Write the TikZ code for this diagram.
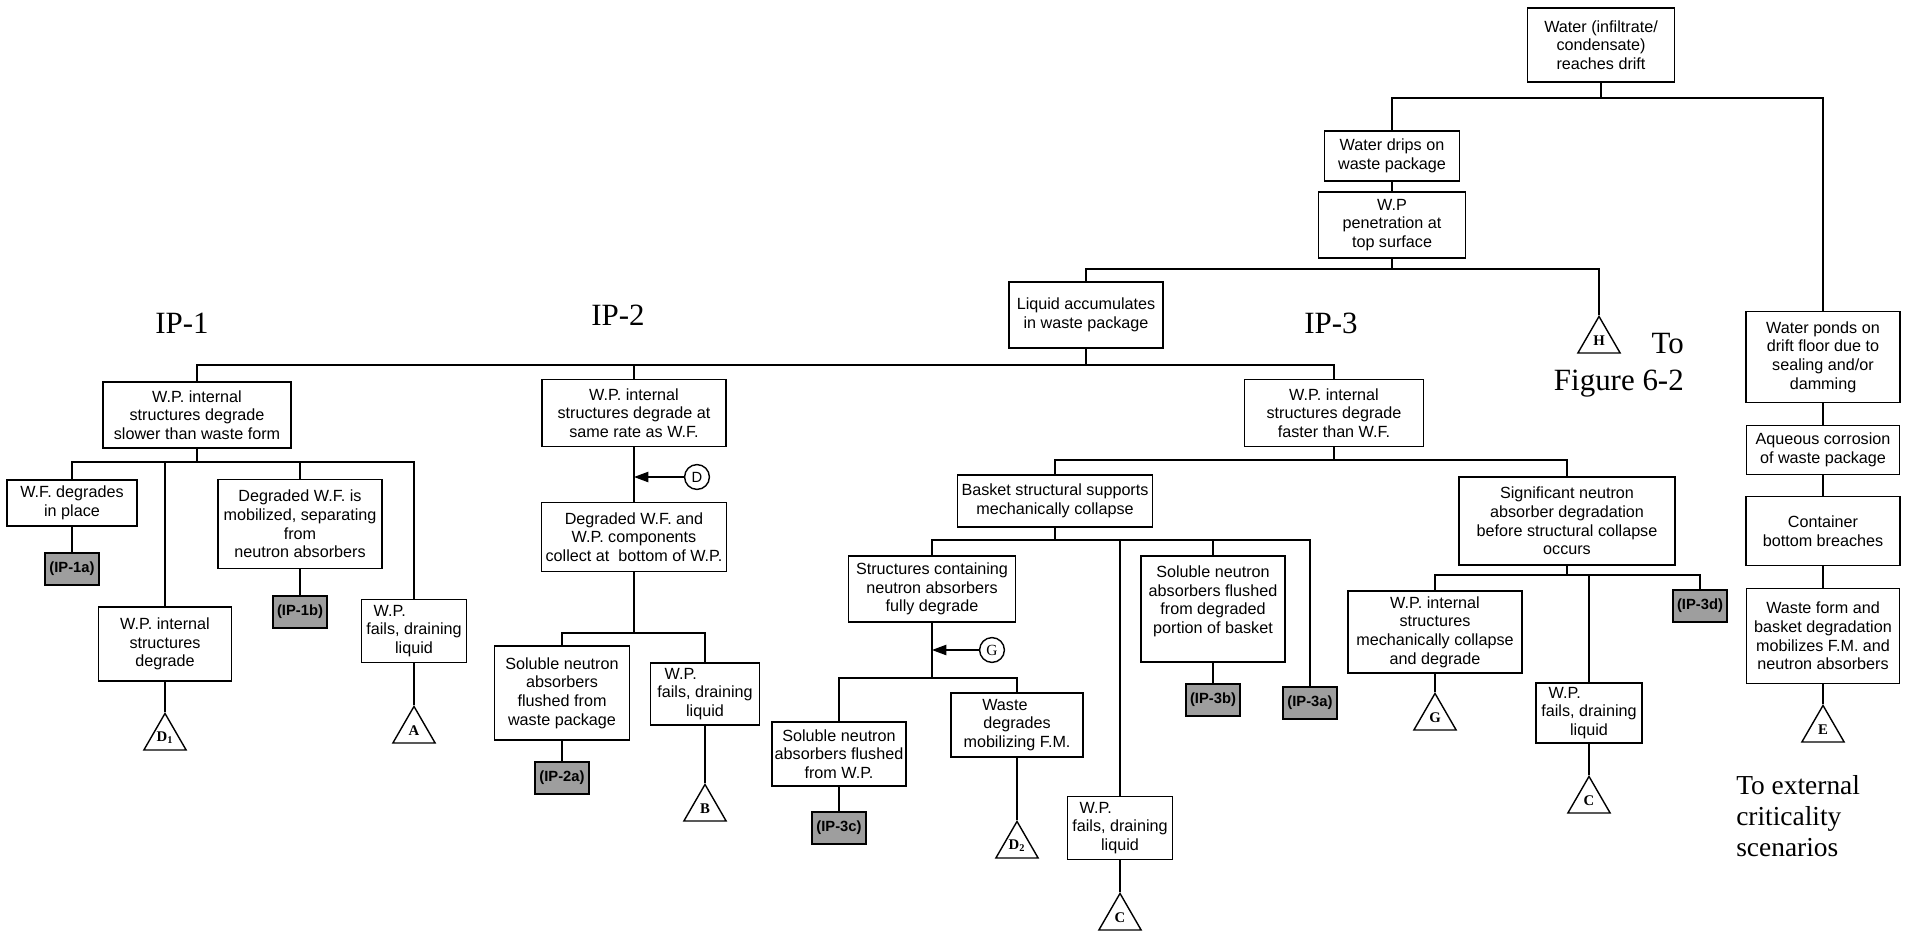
\documentclass[tikz,border=0pt]{standalone}
\usepackage{fontspec}
\setmainfont{Liberation Sans}
\newfontfamily\tnr{Liberation Serif}
\usetikzlibrary{shapes.geometric,arrows.meta}

\tikzset{
  box/.style={draw,line width=1.1pt,align=center,inner sep=2pt,
    font=\fontsize{11.5}{13.3}\selectfont},
  tag/.style={draw,line width=1pt,fill=black!38,minimum width=1.35cm,
    minimum height=0.8cm,inner sep=1pt,font=\bfseries\fontsize{10.5}{12}\selectfont},
  tri/.style={draw,line width=1pt,regular polygon,regular polygon sides=3,
    minimum size=1.22cm,inner sep=0pt,anchor=corner 1,
    font=\tnr\bfseries\fontsize{10.5}{11}\selectfont},
  ring/.style={draw,line width=1pt,circle,minimum size=0.62cm,inner sep=0pt,
    font=\fontsize{10.5}{11}\selectfont},
  link/.style={line width=0.9pt},
  arr/.style={-{Triangle[length=3.6mm,width=2.6mm]}},
  big/.style={font=\tnr\fontsize{22}{26}\selectfont,inner sep=0pt},
}

\begin{document}
\begin{tikzpicture}[x=0.025cm,y=-0.025cm]
  \useasboundingbox (0,0) rectangle (1912,934);

  % top of the tree
  \node[box,minimum width=3.68cm,minimum height=1.85cm] (top) at (1601,45)
    {Water (infiltrate/\\ condensate)\\ reaches drift};
  \node[box,minimum width=3.38cm,minimum height=1.25cm] (drips) at (1392,156)
    {Water drips on\\ waste package};
  \node[box,minimum width=3.68cm,minimum height=1.65cm] (pen) at (1392,225)
    {W.P\\ penetration at\\ top surface};
  \node[box,minimum width=3.85cm,minimum height=1.65cm] (liquid) at (1086,315)
    {Liquid accumulates\\ in waste package};
  \node[tri] (th) at (1599,315) {H};

  % right column
  \node[box,minimum width=3.85cm,minimum height=2.28cm] (ponds) at (1823,357)
    {Water ponds on\\ drift floor due to\\ sealing and/or\\ damming};
  \node[box,minimum width=3.83cm,minimum height=1.23cm] (aqueous) at (1823,450)
    {Aqueous corrosion\\ of waste package};
  \node[box,minimum width=3.85cm,minimum height=1.73cm] (container) at (1823,531)
    {Container\\ bottom breaches};
  \node[box,minimum width=3.83cm,minimum height=2.38cm] (wform) at (1823,636)
    {Waste form and\\ basket degradation\\ mobilizes F.M. and\\ neutron absorbers};
  \node[tri] (te) at (1823,704) {E};

  % the three branches
  \node[box,minimum width=4.7cm,minimum height=1.65cm] (ip1) at (197,415)
    {W.P. internal\\ structures degrade\\ slower than waste form};
  \node[box,minimum width=4.6cm,minimum height=1.68cm] (ip2) at (634,413)
    {W.P. internal\\ structures degrade at\\ same rate as W.F.};
  \node[box,minimum width=4.48cm,minimum height=1.68cm] (ip3) at (1334,413)
    {W.P. internal\\ structures degrade\\ faster than W.F.};

  % IP-1
  \node[box,minimum width=3.25cm,minimum height=1.15cm] (wfplace) at (72,503)
    {W.F. degrades\\ in place};
  \node[box,minimum width=3.33cm,minimum height=1.85cm] (d1box) at (165,644)
    {W.P. internal\\ structures\\ degrade};
  \node[box,minimum width=4.1cm,minimum height=2.23cm] (mobil) at (300,524)
    {Degraded W.F. is\\ mobilized, separating\\ from\hspace*{2.5em}\\ neutron absorbers};
  \node[box,minimum width=2.63cm,minimum height=1.58cm] (fail1) at (414,631)
    {W.P.\hspace*{3em}\\ fails, draining\\ liquid};
  \node[tag] (ip1a) at (72,569) {(IP-1a)};
  \node[tag] (ip1b) at (300,612) {(IP-1b)};
  \node[tri] (td1) at (165,712) {D\textsubscript{1}};
  \node[tri] (ta) at (414,705) {A};

  % IP-2
  \node[ring] (dring) at (697,477) {D};
  \node[box,minimum width=4.63cm,minimum height=1.73cm] (degr) at (634,537)
    {Degraded W.F. and\\ W.P. components\\ collect at \ bottom of W.P.};
  \node[box,minimum width=3.38cm,minimum height=2.35cm] (sol2) at (562,693)
    {Soluble neutron\\ absorbers\\ flushed from\\ waste package};
  \node[box,minimum width=2.73cm,minimum height=1.55cm] (fail2) at (705,694)
    {W.P.\hspace*{3em}\\ fails, draining\\ liquid};
  \node[tag] (ip2a) at (562,778) {(IP-2a)};
  \node[tri] (tb) at (705,783) {B};

  % IP-3
  \node[box,minimum width=4.88cm,minimum height=1.3cm] (basket) at (1055,501)
    {Basket structural supports\\ mechanically collapse};
  \node[box,minimum width=5.4cm,minimum height=2.2cm] (signif) at (1567,521)
    {Significant neutron\\ absorber degradation\\ before structural collapse\\ occurs};
  \node[box,minimum width=4.18cm,minimum height=1.65cm] (struct) at (932,589)
    {Structures containing\\ neutron absorbers\\ fully degrade};
  \node[box,minimum width=3.6cm,minimum height=2.65cm] (solb) at (1213,609)
    {Soluble neutron\\ absorbers flushed\\ from degraded\\ portion of basket\\ ~};
  \node[tag] (ip3a) at (1310,703) {(IP-3a)};
  \node[tag] (ip3b) at (1213,700) {(IP-3b)};
  \node[ring,font=\tnr\fontsize{11}{12}\selectfont] (gring) at (992,650) {G};
  \node[box,minimum width=3.35cm,minimum height=1.6cm] (solwp) at (839,754)
    {Soluble neutron\\ absorbers flushed\\ from W.P.};
  \node[box,minimum width=3.3cm,minimum height=1.6cm] (waste) at (1017,725)
    {Waste\hspace*{1.5em}\\ degrades\\ mobilizing F.M.};
  \node[tag] (ip3c) at (839,828) {(IP-3c)};
  \node[tri] (td2) at (1017,820) {D\textsubscript{2}};
  \node[box,minimum width=2.63cm,minimum height=1.58cm] (fail3) at (1120,828)
    {W.P.\hspace*{3em}\\ fails, draining\\ liquid};
  \node[tri] (tc1) at (1120,892) {C};
  \node[box,minimum width=4.35cm,minimum height=2.05cm] (mech) at (1435,632)
    {W.P. internal\\ structures\\ mechanically collapse\\ and degrade};
  \node[box,minimum width=2.65cm,minimum height=1.5cm] (fail4) at (1589,713)
    {W.P.\hspace*{3em}\\ fails, draining\\ liquid};
  \node[tag] (ip3d) at (1700,606) {(IP-3d)};
  \node[tri] (tg) at (1435,692) {G};
  \node[tri] (tc2) at (1589,775) {C};

  % big labels
  \node[big,anchor=base] (lip1) at (182,333) {IP-1};
  \node[big,anchor=base] (lip2) at (618,325) {IP-2};
  \node[big,anchor=base] (lip3) at (1331,333) {IP-3};
  \node[big,anchor=base east] (lto) at (1684,353) {To};
  \node[big,anchor=base east] (lfig) at (1684,390) {Figure 6-2};
  \node[big,anchor=north west,align=left,font=\tnr\fontsize{19.5}{22}\selectfont]
    (lext) at (1736,775) {To external\\ criticality\\ scenarios};

  % connectors
  \coordinate (j0) at (1601,98);
  \draw[link] (top) -- (j0) -| (drips);
  \draw[link] (j0) -| (ponds);
  \draw[link] (drips) -- (pen);
  \coordinate (jp) at (1392,269);
  \draw[link] (pen) -- (jp) -| (liquid);
  \draw[link] (jp) -| (th.corner 1);

  \draw[link] (ponds) -- (aqueous);
  \draw[link] (aqueous) -- (container);
  \draw[link] (container) -- (wform);
  \draw[link] (wform) -- (te.corner 1);

  \coordinate (jl) at (1086,365);
  \draw[link] (liquid) -- (jl) -| (ip1);
  \draw[link] (jl) -| (ip2);
  \draw[link] (jl) -| (ip3);

  \coordinate (j1) at (197,462);
  \draw[link] (ip1) -- (j1) -| (wfplace);
  \draw[link] (j1) -| (d1box);
  \draw[link] (j1) -| (mobil);
  \draw[link] (j1) -| (fail1);
  \draw[link] (wfplace) -- (ip1a);
  \draw[link] (mobil) -- (ip1b);
  \draw[link] (d1box) -- (td1.corner 1);
  \draw[link] (fail1) -- (ta.corner 1);

  \coordinate (dp) at (634,477);
  \draw[link] (ip2) -- (degr);
  \draw[link,arr] (dring) -- (dp);
  \coordinate (j2) at (634,633);
  \draw[link] (degr) -- (j2) -| (sol2);
  \draw[link] (j2) -| (fail2);
  \draw[link] (sol2) -- (ip2a);
  \draw[link] (fail2) -- (tb.corner 1);

  \coordinate (j3) at (1334,460);
  \draw[link] (ip3) -- (j3) -| (basket);
  \draw[link] (j3) -| (signif);
  \coordinate (j4) at (1055,540);
  \draw[link] (basket) -- (j4) -| (struct);
  \draw[link] (j4) -| (fail3);
  \draw[link] (j4) -| (solb);
  \draw[link] (j4) -| (ip3a);
  \draw[link] (solb) -- (ip3b);
  \draw[link] (fail3) -- (tc1.corner 1);

  \coordinate (gp) at (932,650);
  \draw[link,arr] (gring) -- (gp);
  \coordinate (j5) at (932,678);
  \draw[link] (struct) -- (j5) -| (solwp);
  \draw[link] (j5) -| (waste);
  \draw[link] (solwp) -- (ip3c);
  \draw[link] (waste) -- (td2.corner 1);

  \coordinate (j6) at (1567,575);
  \draw[link] (signif) -- (j6) -| (mech);
  \draw[link] (j6) -| (fail4);
  \draw[link] (j6) -| (ip3d);
  \draw[link] (mech) -- (tg.corner 1);
  \draw[link] (fail4) -- (tc2.corner 1);
\end{tikzpicture}
\end{document}
